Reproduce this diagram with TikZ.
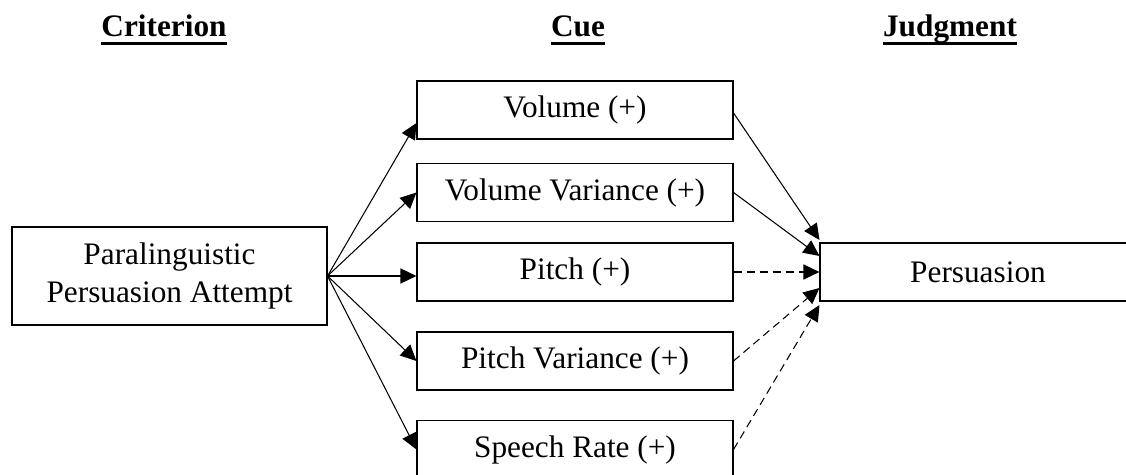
\documentclass[tikz,border=0pt]{standalone}
\usepackage{fontspec}
\setmainfont{Liberation Serif}
\usetikzlibrary{arrows.meta}
\newcommand{\headword}[1]{\setbox0\hbox{\bfseries #1}\rlap{\rule[-4.3pt]{\wd0}{1.7pt}}\box0}

\begin{document}
\begin{tikzpicture}[
      cuebox/.style={rectangle, draw, line width=0.6pt, minimum width=6.32cm, minimum height=1.16cm,
         inner sep=0pt, align=center, font=\fontsize{17.8}{21.5}\selectfont},
      heading/.style={anchor=base, inner sep=0pt, font=\fontsize{17.8}{21.5}\selectfont},
      link/.style={line width=0.6pt, -{Triangle[length=0.32cm, width=0.3cm]}},
      weak/.style={link, dash pattern=on 0.16cm off 0.1cm}]

   \useasboundingbox (0,0) rectangle (22.52,9.5);
   \clip (0,0) rectangle (22.52,9.5);

   \node[heading] (criterion) at (3.28,8.76) {\headword{Criterion}};
   \node[heading] (cue)       at (11.56,8.76) {\headword{Cue}};
   \node[heading] (judgment)  at (19.0,8.76) {\headword{Judgment}};

   \node[cuebox, minimum width=6.3cm, minimum height=1.96cm] (attempt) at (3.39,3.98)
      {Paralinguistic\\Persuasion Attempt};

   \node[cuebox] (volume)   at (11.5,7.30) {Volume (+)};
   \node[cuebox] (volvar)   at (11.5,5.65) {Volume Variance (+)};
   \node[cuebox] (pitch)    at (11.5,4.06) {Pitch (+)};
   \node[cuebox] (pitchvar) at (11.5,2.28) {Pitch Variance (+)};
   \node[cuebox] (rate)     at (11.5,0.51) {Speech Rate (+)};

   \node[cuebox] (persuasion) at (19.56,4.06) {Persuasion};

   \draw[link] (attempt.east) to ([yshift=-0.26cm]volume.west);
   \draw[link] (attempt.east) to (volvar.west);
   \draw[link] (attempt.east) to (attempt.east -| pitch.west);
   \draw[link] (attempt.east) to (pitchvar.west);
   \draw[link] (attempt.east) to (rate.west);

   \draw[link] ([yshift=-0.06cm]volume.east) to ([yshift=0.64cm]persuasion.west);
   \draw[link] (volvar.east) to ([yshift=0.32cm]persuasion.west);
   \draw[weak] (pitch.east) to (persuasion.west);
   \draw[weak] (pitchvar.east) to ([yshift=-0.32cm]persuasion.west);
   \draw[weak] (rate.east) to ([yshift=-0.66cm]persuasion.west);
 \end{tikzpicture}
\end{document}
